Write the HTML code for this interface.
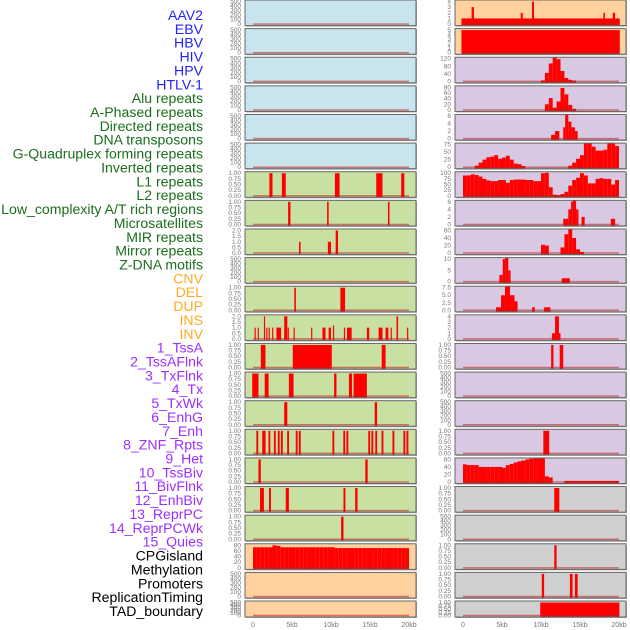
<!DOCTYPE html>
<html><head><meta charset="utf-8"><style>
html,body{margin:0;padding:0;background:#fff;}
svg{display:block;font-family:"Liberation Sans",sans-serif;}
</style></head><body>
<svg id="chart" width="630" height="630" viewBox="0 0 630 630" xmlns="http://www.w3.org/2000/svg"></svg>
<script>
// ---------- data ----------
const kbTicks = [0,5,10,15,20];
const kbTickLabels = ["0","5kb","10kb","15kb","20kb"];
const labelNames = ["AAV2","EBV","HBV","HIV","HPV","HTLV-1","Alu repeats","A-Phased repeats","Directed repeats","DNA transposons","G-Quadruplex forming repeats","Inverted repeats","L1 repeats","L2 repeats","Low_complexity A/T rich regions","Microsatellites","MIR repeats","Mirror repeats","Z-DNA motifs","CNV","DEL","DUP","INS","INV","1_TssA","2_TssAFlnk","3_TxFlnk","4_Tx","5_TxWk","6_EnhG","7_Enh","8_ZNF_Rpts","9_Het","10_TssBiv","11_BivFlnk","12_EnhBiv","13_ReprPC","14_ReprPCWk","15_Quies","CPGisland","Methylation","Promoters","ReplicationTiming","TAD_boundary"];
const labelGroups = ["v","v","v","v","v","v","r","r","r","r","r","r","r","r","r","r","r","r","r","s","s","s","s","s","c","c","c","c","c","c","c","c","c","c","c","c","c","c","c","o","o","o","o","o"];

const ticks500 = [0,100,200,300,400,500];
const ticksBin = [0,0.25,0.5,0.75,1];
const ticksBinLbl = ["0.00","0.25","0.50","0.75","1.00"];
const ticks2 = [0,0.5,1,1.5,2];
const ticks2Lbl = ["0.0","0.5","1.0","1.5","2.0"];

const l1Left = [[2.1,2.5,1],[3.7,4.2,1],[10.5,11.1,1],[15.8,16.6,1],[19.0,19.4,1]];
const l2Left = [[4.5,4.8,1],[9.5,9.7,1],[17.3,17.5,1]];
const lowLeft = [[5.9,6.1,1],[9.6,10.0,1],[10.6,10.9,2]];
const delLeft = [[5.3,5.5,1],[11.2,11.8,1]];
const invLeft = [[0.2,0.35,1],[0.6,0.75,1],[1.4,1.55,2],[1.7,1.85,1],[2.0,2.15,1],[2.45,2.6,1],[3.0,3.6,1],[4.0,4.4,2],[4.45,4.6,1],[5.2,5.35,1],[7.45,7.6,1],[8.9,9.3,1],[9.7,10.0,1],[10.25,10.4,1.2],[11.65,11.8,1],[12.05,12.65,1],[14.6,14.9,1],[16.1,16.6,1],[17.0,17.35,1],[17.65,17.8,1],[18.4,18.6,2],[19.75,19.9,1]];
const tssALeft = [[1.0,1.6,1],[5.1,10.1,1],[16.5,17.0,1]];
const txFlnkLeft = [[-0.1,0.7,1],[1.5,2.0,1],[4.6,5.2,1],[10.4,10.7,1],[12.3,12.7,1],[12.9,14.6,1]];
const txWkLeft = [[4.0,4.4,1],[15.6,15.9,1]];
const enhCenters = [0.55,1.3,1.5,2.1,2.8,3.3,3.7,4.5,5.6,6.0,10.3,11.7,12.1,14.9,15.3,15.8,16.6,18.0,19.4,19.8];
const hetLeft = [[0.7,1.0,1],[14.4,14.7,1]];
const bivLeft = [[0.9,1.4,1],[2.05,2.3,1],[4.2,4.6,1],[11.6,11.85,1],[13.1,13.4,1]];
const reprLeft = [[11.3,11.6,1]];
const cpgBins = [73,73,73,73,73,80,78,73,73,73,73,73,73,73,73,73,73,73,73,73,73,70,70,70,70,70,70,70,70,70,70,70,70,70,70,70,70,70,70,70];

const aav2Right = [[-0.2,20.1,1],[1.1,1.4,3],[7.4,7.65,2],[8.85,9.1,4],[18.0,18.2,2],[19.2,19.5,2]];
const hbvRight = [[-0.2,20.1,5]];
const hivBins = [0,0,0,0,0,0,0,0,0,0,0,0,0,0,0,0,0,0,0,0,5,45,95,128,118,55,18,8,4,0,0,0,0,0,0,0,0,0,0,0];
const aluBins = [0,0,0,0,0,0,0,0,0,0,0,0,0,0,0,0,0,0,0,0,0,20,42,8,30,78,55,18,4,0,0,0,0,0,0,0,0,0,0,0];
const directedRight = [[11.3,11.8,1],[11.8,12.35,2],[12.85,13.1,3],[13.1,13.5,7],[13.5,13.9,4.5],[13.9,14.35,3],[14.35,14.7,2]];
const gquadBins = [0,0,0,5,15,25,33,35,40,28,32,38,25,12,10,4,0,0,0,0,0,0,0,0,0,0,0,5,15,28,40,80,80,68,55,55,58,85,88,70];
const l1Bins = [90,90,95,92,85,75,68,65,65,70,70,58,70,72,72,72,70,70,65,65,100,102,38,5,3,8,18,45,70,80,100,90,55,55,75,78,75,75,50,70];
const lowRight = [[12.85,13.5,1.5],[13.5,13.85,4],[13.85,14.05,6],[14.05,14.5,7.5],[14.5,14.8,4],[15.2,15.6,2],[18.95,19.5,1.5]];
const mirBins = [0,0,0,0,0,0,0,0,0,0,0,0,0,0,0,0,0,0,0,0,22,20,0,0,0,15,50,70,40,10,3,0,0,0,0,0,0,0,0,0];
const microRight = [[4.66,5.1,3],[5.1,5.4,10],[5.4,5.8,13],[5.8,6.1,5],[12.65,13.7,1.5]];
const mirrorRight = [[4.23,4.87,1],[4.87,5.38,5],[5.38,6.03,9],[6.03,6.6,5],[6.6,7.0,3],[8.85,9.2,1],[10.4,11.2,1]];
const insRight = [[11.4,11.8,1],[11.8,12.3,4],[12.3,12.5,1]];
const tssARight = [[11.3,11.6,1],[12.4,12.85,1]];
const znfRight = [[10.3,11.05,1]];
const tssBivBins = [47,45,45,45,40,40,40,40,40,40,38,45,48,52,55,57,60,62,65,70,70,15,12,0,0,0,3,3,3,3,3,3,3,3,3,3,3,3,3,3];
const bivFlnkRight = [[11.7,12.35,1]];
const cpgRight = [[11.7,12.0,1]];
const promRight = [[10.1,10.4,1],[13.7,14.05,1],[14.35,14.7,1]];
const tadRight = [[9.9,20.05,1]];

const NS = "http://www.w3.org/2000/svg";
const svg = document.getElementById("chart");
function mk(tag, attrs, parent){const e=document.createElementNS(NS,tag);for(const k in attrs)e.setAttribute(k,attrs[k]);(parent||svg).appendChild(e);return e;}
function binsToSegs(b){const s=[];b.forEach((v,i)=>{if(v>0)s.push([i*0.5,i*0.5+0.5,v]);});return s;}
function enhSegs(c){return c.map(x=>[x-0.12,x+0.12,1]);}

const colX = [245,455];
const panelW = 171;
const kbPx = 7.8;
function xScale(col,kb){return colX[col]+8+kb*kbPx;}
function rowTop(r){return r<21 ? r*28.62 : 601;}
function rowH(r){return r<21 ? 25.6 : 16;}

const BG = {blue:"#c8e4ec",green:"#c8e0a2",peach:"#ffd19e",lav:"#d8c8e2",grey:"#d0d0d0"};

const leftPanels = [];
for(let r=0;r<6;r++) leftPanels.push({bg:"blue",ticks:ticks500,segs:[]});
leftPanels.push({bg:"green",ticks:ticksBin,lbl:ticksBinLbl,segs:l1Left});
leftPanels.push({bg:"green",ticks:ticksBin,lbl:ticksBinLbl,segs:l2Left});
leftPanels.push({bg:"green",ticks:ticks2,lbl:ticks2Lbl,segs:lowLeft});
leftPanels.push({bg:"green",ticks:ticks500,segs:[]});
leftPanels.push({bg:"green",ticks:ticksBin,lbl:ticksBinLbl,segs:delLeft});
leftPanels.push({bg:"green",ticks:ticks2,lbl:ticks2Lbl,segs:invLeft});
leftPanels.push({bg:"green",ticks:ticksBin,lbl:ticksBinLbl,segs:tssALeft});
leftPanels.push({bg:"green",ticks:ticksBin,lbl:ticksBinLbl,segs:txFlnkLeft});
leftPanels.push({bg:"green",ticks:ticksBin,lbl:ticksBinLbl,segs:txWkLeft});
leftPanels.push({bg:"green",ticks:ticksBin,lbl:ticksBinLbl,segs:enhSegs(enhCenters)});
leftPanels.push({bg:"green",ticks:ticksBin,lbl:ticksBinLbl,segs:hetLeft});
leftPanels.push({bg:"green",ticks:ticksBin,lbl:ticksBinLbl,segs:bivLeft});
leftPanels.push({bg:"green",ticks:ticksBin,lbl:ticksBinLbl,segs:reprLeft});
leftPanels.push({bg:"peach",ticks:[0,20,40,60,80],segs:binsToSegs(cpgBins)});
leftPanels.push({bg:"peach",ticks:ticks500,segs:[]});
leftPanels.push({bg:"peach",ticks:ticks500,segs:[]});

const rightPanels = [
 {bg:"peach",ticks:[0,1,2,3,4],segs:aav2Right},
 {bg:"peach",ticks:[0,1,2,3,4,5],segs:hbvRight},
 {bg:"lav",ticks:[0,40,80,120],segs:binsToSegs(hivBins)},
 {bg:"lav",ticks:[0,20,40,60,80],segs:binsToSegs(aluBins)},
 {bg:"lav",ticks:[0,2,4,6],segs:directedRight},
 {bg:"lav",ticks:[0,25,50,75],segs:binsToSegs(gquadBins)},
 {bg:"lav",ticks:[0,25,50,75,100],segs:binsToSegs(l1Bins)},
 {bg:"lav",ticks:[0,2,4,6],segs:lowRight},
 {bg:"lav",ticks:[0,20,40,60],segs:binsToSegs(mirBins)},
 {bg:"lav",ticks:[0,5,10],segs:microRight},
 {bg:"lav",ticks:[0,2.5,5,7.5],lbl:["0.0","2.5","5.0","7.5"],segs:mirrorRight},
 {bg:"lav",ticks:[0,1,2,3,4],segs:insRight},
 {bg:"lav",ticks:ticksBin,lbl:ticksBinLbl,segs:tssARight},
 {bg:"lav",ticks:ticks500,segs:[]},
 {bg:"lav",ticks:ticks500,segs:[]},
 {bg:"lav",ticks:ticksBin,lbl:ticksBinLbl,segs:znfRight},
 {bg:"lav",ticks:[0,20,40,60],segs:binsToSegs(tssBivBins)},
 {bg:"grey",ticks:ticksBin,lbl:ticksBinLbl,segs:bivFlnkRight},
 {bg:"grey",ticks:ticks500,segs:[]},
 {bg:"grey",ticks:ticksBin,lbl:ticksBinLbl,segs:cpgRight},
 {bg:"grey",ticks:ticksBin,lbl:ticksBinLbl,segs:promRight},
 {bg:"grey",ticks:ticksBin,lbl:ticksBinLbl,segs:tadRight}
];

const defs = mk("defs",{});
function drawPanel(col,r,p){
  const x0=colX[col], y0=rowTop(r), h=rowH(r);
  const g = mk("g",{});
  
  
  const cid="clip"+col+"_"+r;
  const cp=mk("clipPath",{id:cid},defs);
  mk("rect",{x:x0,y:y0,width:panelW,height:h},cp);
  mk("rect",{x:x0+1,y:y0+1,width:panelW,height:h,fill:"#aaa"},g);
  mk("rect",{x:x0,y:y0,width:panelW,height:h,fill:BG[p.bg]},g);
  const ymax=p.ticks[p.ticks.length-1];
  const yb=y0+h-1.5, yt=y0+1.5;
  const ys=v=>yb-(v/ymax)*(yb-yt);
  const bars=mk("g",{"clip-path":"url(#"+cid+")"},g);
  p.segs.forEach(s=>{
    const xa=xScale(col,s[0]), xb=xScale(col,s[1]);
    const b=mk("rect",{x:xa,y:ys(s[2]),width:Math.max(xb-xa,1),height:yb-ys(s[2])+2,fill:"#ff0000"},bars);
    
    
  });
  mk("line",{x1:xScale(col,0),x2:xScale(col,20),y1:yb,y2:yb,stroke:"rgba(190,30,30,0.55)","stroke-width":1.5},bars);
  mk("rect",{x:x0,y:y0,width:panelW,height:h,fill:"none",stroke:"#666","stroke-width":1},g);
  p.ticks.forEach((t,i)=>{
    const tx=mk("text",{x:x0-4,y:ys(t)+2,"font-size":"6.5","text-anchor":"end",fill:"#777"},g);
    tx.textContent = p.lbl ? p.lbl[i] : String(t);
    
    
  });
}
leftPanels.forEach((p,r)=>drawPanel(0,r,p));
rightPanels.forEach((p,r)=>drawPanel(1,r,p));

[0,1].forEach(col=>{
  kbTicks.forEach((k,i)=>{
    const t=mk("text",{x:xScale(col,k),y:627,"font-size":"7","text-anchor":"middle",fill:"#777"});
    t.textContent=kbTickLabels[i];
    
    
  });
});

const GC={v:"#2222ff",r:"#1b6e1b",s:"#ffaa22",c:"#9b30ff",o:"#000000"};
labelNames.forEach((n,i)=>{
  const t=mk("text",{x:203,y:20+i*13.86,"font-size":"14.1","text-anchor":"end",fill:GC[labelGroups[i]]});
  t.textContent=n;
  
  
});
</script>
</body></html>
